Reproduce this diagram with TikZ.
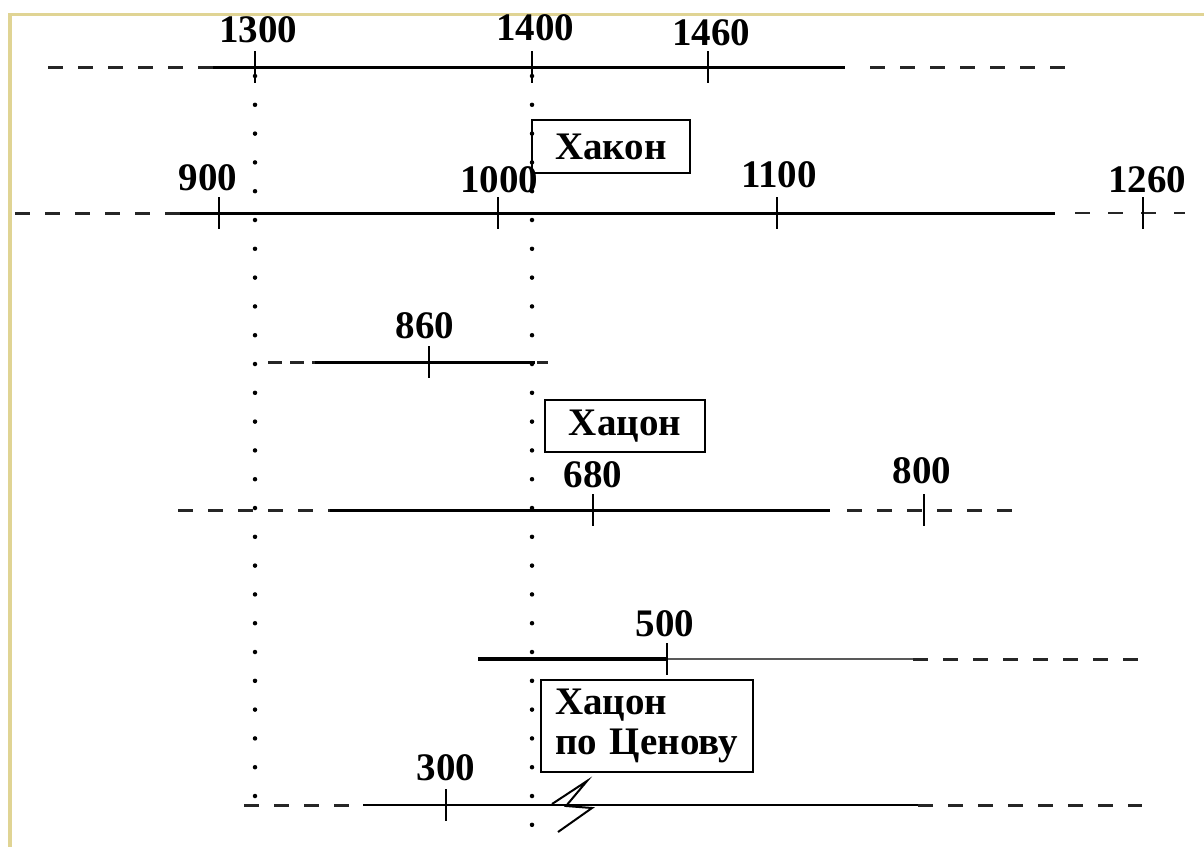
\documentclass[tikz,border=0pt]{standalone}
\usepackage{fontspec}
\setmainfont{Liberation Serif}
\definecolor{frame}{HTML}{E0D494}
\begin{document}
\begin{tikzpicture}[x=1pt,y=-1pt,
  lbl/.style={font=\fontsize{39}{44}\selectfont\bfseries, anchor=base, inner sep=0pt},
  solidln/.style={line width=3pt, black},
  dashln/.style={line width=3pt, black!85, dash pattern=on 15pt off 15pt},
  tickln/.style={line width=2pt, black},
  dotln/.style={line width=4.5pt, line cap=round, dash pattern=on 0pt off 28.8pt, black},
  namebox/.style={draw, line width=2.5pt, font=\fontsize{39}{40}\selectfont\bfseries, inner sep=0pt}]
\useasboundingbox (0,0) rectangle (1204,847);
\fill[white] (0,0) rectangle (1204,847);
% frame
\draw[frame, line width=3pt] (8,14) -- (1204,14);
\draw[frame, line width=4pt] (9.5,13) -- (9.5,847);

% vertical dotted guides
\coordinate (v1t) at (255,76);
\coordinate (v1b) at (255,800);
\coordinate (v2t) at (532,76);
\coordinate (v2b) at (532,847);
\draw[dotln] (v1t) -- (v1b);
\draw[dotln] (v2t) -- (v2b);

% row 1
\draw[dashln] (48,67) -- (213,67);
\draw[solidln] (213,67) -- (845,67);
\draw[dashln] (870,67) -- (1072,67);
\foreach \x/\t/\by in {255/1300/42, 532/1400/40, 708/1460/45}{
  \draw[tickln] (\x,51) -- (\x,83);
  \node[lbl] (r1\t) at (\x+3,\by) {\t};
}

% row 2
\draw[dashln] (15,213) -- (180,213);
\draw[solidln] (180,213) -- (1055,213);
\draw[line width=2pt, black!85, dash pattern=on 15pt off 18pt] (1075,213) -- (1185,213);
\foreach \x/\t/\by/\lx in {219/900/190/208, 498/1000/192/499, 777/1100/187/779, 1143/1260/192/1147}{
  \draw[tickln] (\x,197) -- (\x,229);
  \node[lbl] (r2\t) at (\lx,\by) {\t};
}

% box Хакон
\node[namebox, minimum width=158pt, minimum height=53pt] (hakon) at (611,146.5) {Хакон};

% row 3
\draw[dashln, dash pattern=on 14pt off 8pt] (268,362) -- (315,362);
\draw[solidln] (315,362) -- (535,362);
\draw[dashln] (537,362) -- (548,362);
\draw[tickln] (429,346) -- (429,378);
\node[lbl] (r3860) at (425,338) {860};

% box Хацон
\node[namebox, minimum width=160pt, minimum height=52pt] (hacon) at (625,426) {Хацон};

% row 4
\draw[dashln] (178,510) -- (330,510);
\draw[solidln] (330,510) -- (830,510);
\draw[dashln] (847,510) -- (1012,510);
\draw[tickln] (593,494) -- (593,526);
\node[lbl] (r4680) at (593,487) {680};
\draw[tickln] (924,494) -- (924,526);
\node[lbl] (r4800) at (922,483) {800};

% row 5
\draw[line width=4pt, black] (478,659) -- (667,659);
\draw[line width=2.5pt, black!65] (667,659) -- (913,659);
\draw[dashln] (913,659) -- (1142,659);
\draw[tickln] (667,643) -- (667,675);
\node[lbl] (r5500) at (665,636) {500};

% box Хацон по Ценову
\node[namebox, minimum width=212pt, minimum height=92pt, align=left, text width=184pt, inner xsep=14pt] (hacon2) at (647,726) {Хацон\\по Ценову};

% row 6
\draw[dashln] (244,805) -- (360,805);
\draw[line width=2.5pt, black] (363,805) -- (918,805);
\draw[dashln] (918,805) -- (1142,805);
\draw[tickln] (446,789) -- (446,821);
\node[lbl] (r6300) at (446,780) {300};
% break mark
\draw[line width=2pt, line join=miter] (552,804) -- (587,781) -- (566,806) -- (592,808) -- (558,832);
\end{tikzpicture}
\end{document}
